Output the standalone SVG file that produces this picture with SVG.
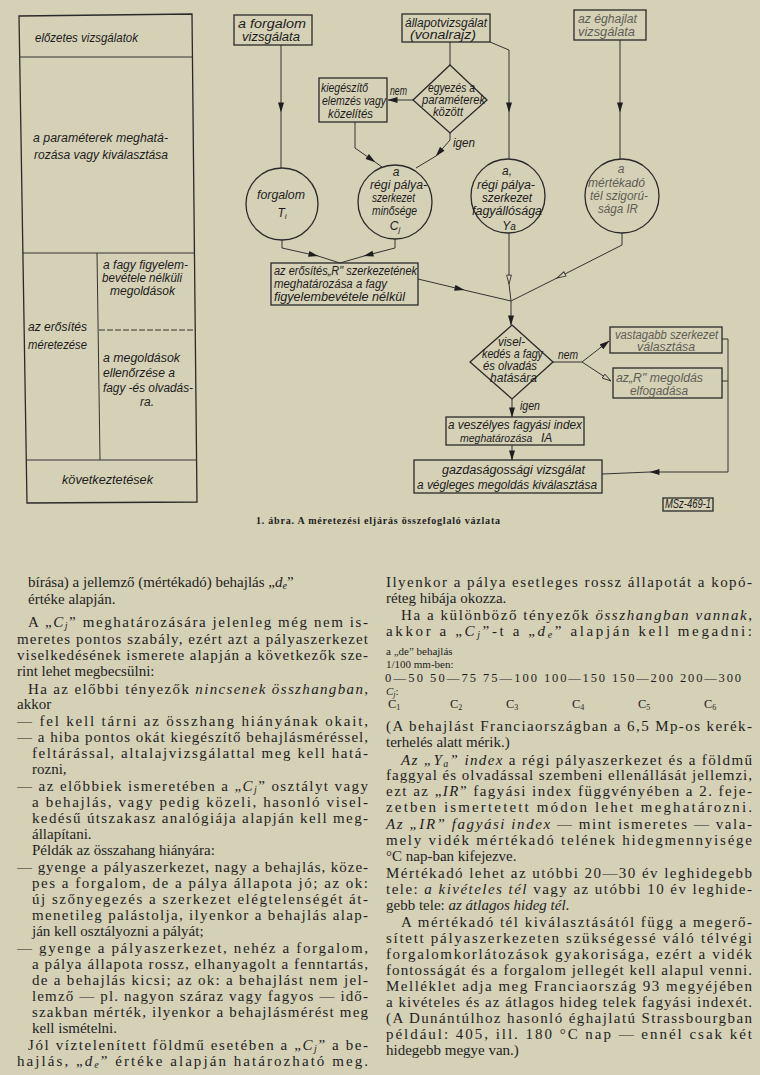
<svg xmlns="http://www.w3.org/2000/svg" width="760" height="1075" viewBox="0 0 760 1075">
<style>
.bx{fill:none;stroke:#2a2a2a;stroke-width:1.3}
.ln{fill:none;stroke:#333;stroke-width:1}
.t{font-family:"Liberation Sans",Arial,sans-serif;font-style:italic;font-size:12px;fill:#1c1c1c}
.m{text-anchor:middle}
.f{fill:#5e5d55}
.b{font-family:"Liberation Serif","Times New Roman",serif;font-size:15px;fill:#1e1e1e}
.s{font-size:11px}
.n{font-size:12.5px}
.i{font-style:italic}
.cap{font-family:"Liberation Serif","Times New Roman",serif;font-weight:bold;font-size:10px;fill:#1e1e1e}
</style>
<defs>
<marker id="a" viewBox="0 0 10 6" refX="9.5" refY="3" markerWidth="11" markerHeight="6" markerUnits="userSpaceOnUse" orient="auto"><path d="M0,0 L10,3 L0,6 z" fill="#1e1e1e"/></marker>
<marker id="o" viewBox="0 0 10 6" refX="9.5" refY="3" markerWidth="11" markerHeight="6" markerUnits="userSpaceOnUse" orient="auto"><path d="M0.6,0.6 L9.4,3 L0.6,5.4 z" fill="#d5d1b6" stroke="#333" stroke-width="0.9"/></marker>
</defs>
<rect x="0" y="0" width="760" height="1075" fill="#d5d1b6"/>

<g id="phases">
<polygon class="bx" points="19,16 192,14 197,502 27,503"/>
<path class="ln" d="M20,57 H192 M23,253 H194 M97,253 L100,460 M26,460 H197" stroke-width="1.1"/>
<path class="ln" d="M99,330 H196" stroke-dasharray="6,2" stroke-width="0.9"/>
<text class="t" x="35" y="42" textLength="103" lengthAdjust="spacingAndGlyphs">előzetes vizsgálatok</text>
<text class="t" x="33" y="142" textLength="135" lengthAdjust="spacingAndGlyphs">a paraméterek meghatá-</text>
<text class="t" x="34" y="159" textLength="134" lengthAdjust="spacingAndGlyphs">rozása vagy kiválasztása</text>
<text class="t" x="103" y="269" textLength="85" lengthAdjust="spacingAndGlyphs">a fagy figyelem-</text>
<text class="t" x="102" y="282" textLength="80" lengthAdjust="spacingAndGlyphs">bevétele nélküli</text>
<text class="t" x="110" y="295" textLength="65" lengthAdjust="spacingAndGlyphs">megoldások</text>
<text class="t" x="28" y="331" textLength="59" lengthAdjust="spacingAndGlyphs">az erősítés</text>
<text class="t" x="28" y="349" textLength="59" lengthAdjust="spacingAndGlyphs">méretezése</text>
<text class="t" x="103" y="362" textLength="77" lengthAdjust="spacingAndGlyphs">a megoldások</text>
<text class="t" x="103" y="377" textLength="72" lengthAdjust="spacingAndGlyphs">ellenőrzése a</text>
<text class="t" x="103" y="392" textLength="90" lengthAdjust="spacingAndGlyphs">fagy -és olvadás-</text>
<text class="t" x="140" y="406">ra.</text>
<text class="t" x="62" y="484" textLength="91" lengthAdjust="spacingAndGlyphs">következtetések</text>
</g>

<g id="connectors">
<path class="ln" d="M281,45 V112" marker-end="url(#a)"/><path class="ln" d="M281,112 V168"/>
<path class="ln" d="M450,42 V65"/>
<path class="ln" d="M413,100 H388" marker-end="url(#a)"/>
<path class="ln" d="M490,42 L509,50 V112" marker-end="url(#a)"/><path class="ln" d="M509,112 V159"/>
<path class="ln" d="M620,40 V112" marker-end="url(#a)"/><path class="ln" d="M620,112 V160"/>
<path class="ln" d="M355,122 V148 L375,162" marker-end="url(#a)"/><path class="ln" d="M375,162 L382,167"/>
<path class="ln" d="M450,133 V140 L436,156" marker-end="url(#a)"/><path class="ln" d="M436,156 L416,168"/>
<path class="ln" d="M282,240 V248 L318,256" marker-end="url(#a)"/><path class="ln" d="M318,256 L340,263"/>
<path class="ln" d="M395,239 V248 L364,256" marker-end="url(#a)"/><path class="ln" d="M364,256 L340,263"/>
<path class="ln" d="M418,279 L464,290" marker-end="url(#a)"/><path class="ln" d="M464,290 L511,301"/>
<path class="ln" d="M509,233 V284" marker-end="url(#o)"/><path class="ln" d="M509,284 L511,301"/>
<path class="ln" d="M622,233 V245 L557,278" marker-end="url(#o)"/><path class="ln" d="M557,278 L511,301"/>
<path class="ln" d="M511,301 V325" marker-end="url(#a)"/>
<path class="ln" d="M553,362 H582"/>
<path class="ln" d="M582,362 L609,341" marker-end="url(#a)"/>
<path class="ln" d="M582,362 L611,381" marker-end="url(#o)"/>
<path class="ln" d="M722,339 H728 V472 H650" marker-end="url(#a)"/><path class="ln" d="M650,472 L602,474"/>
<path class="ln" d="M722,381 H728"/>
<path class="ln" d="M512,399 V417" marker-end="url(#a)"/>
<path class="ln" d="M512,445 V460" marker-end="url(#a)"/>
<text class="t" x="390" y="95" font-size="10" textLength="17" lengthAdjust="spacingAndGlyphs">nem</text>
<text class="t" x="453" y="147" font-size="10" textLength="22" lengthAdjust="spacingAndGlyphs">igen</text>
<text class="t" x="558" y="359" font-size="11" textLength="20" lengthAdjust="spacingAndGlyphs">nem</text>
<text class="t" x="520" y="410" font-size="11" textLength="20" lengthAdjust="spacingAndGlyphs">igen</text>
</g>

<g id="n-forgalom-vizsg">
<rect class="bx" x="234" y="15" width="78" height="30"/>
<text class="t" x="238" y="28" textLength="68" lengthAdjust="spacingAndGlyphs">a forgalom</text>
<text class="t" x="242" y="41" textLength="58" lengthAdjust="spacingAndGlyphs">vizsgálata</text>
</g>
<g id="n-allapot">
<rect class="bx" x="402" y="14" width="88" height="28"/>
<text class="t" x="405" y="27" font-size="11.5" textLength="82" lengthAdjust="spacingAndGlyphs">állapotvizsgálat</text>
<text class="t" x="410" y="39" font-size="11.5" textLength="66" lengthAdjust="spacingAndGlyphs">(vonalrajz)</text>
</g>
<g id="n-eghajlat">
<rect class="bx" x="574" y="10" width="72" height="30" stroke="#444"/>
<text class="t f" x="578" y="23" textLength="59" lengthAdjust="spacingAndGlyphs">az éghajlat</text>
<text class="t f" x="578" y="36" textLength="57" lengthAdjust="spacingAndGlyphs">vizsgálata</text>
</g>
<g id="n-egyezes">
<polygon class="bx" points="450,65 487,100 450,133 413,100"/>
<text class="t" x="428" y="92" font-size="10" textLength="47" lengthAdjust="spacingAndGlyphs">egyezés a</text>
<text class="t" x="422" y="104" font-size="10" textLength="63" lengthAdjust="spacingAndGlyphs">paraméterek</text>
<text class="t" x="433" y="116" font-size="10" textLength="30" lengthAdjust="spacingAndGlyphs">között</text>
</g>
<g id="n-kiegeszito">
<rect class="bx" x="319" y="78" width="68" height="44"/>
<text class="t" x="321" y="92" font-size="11" textLength="47" lengthAdjust="spacingAndGlyphs">kiegészítő</text>
<text class="t" x="322" y="105" font-size="11" textLength="64" lengthAdjust="spacingAndGlyphs">elemzés vagy</text>
<text class="t" x="328" y="118" font-size="11" textLength="45" lengthAdjust="spacingAndGlyphs">közelítés</text>
</g>
<g id="n-forgalom">
<circle class="bx" cx="282" cy="204" r="36"/>
<text class="t" x="257" y="199" textLength="48" lengthAdjust="spacingAndGlyphs">forgalom</text>
<text class="t m" x="282" y="217">T<tspan font-size="8" dy="2">i</tspan></text>
</g>
<g id="n-cj">
<circle class="bx" cx="395" cy="202" r="37"/>
<text class="t m" x="396" y="176" font-size="11">a</text>
<text class="t" x="370" y="189" font-size="11" textLength="57" lengthAdjust="spacingAndGlyphs">régi pálya-</text>
<text class="t" x="372" y="202" font-size="11" textLength="43" lengthAdjust="spacingAndGlyphs">szerkezet</text>
<text class="t" x="372" y="215" font-size="11" textLength="45" lengthAdjust="spacingAndGlyphs">minősége</text>
<text class="t m" x="395" y="230">C<tspan font-size="8" dy="2">j</tspan></text>
</g>
<g id="n-ya">
<circle class="bx" cx="508" cy="196" r="37"/>
<text class="t m" x="507" y="175" font-size="11">a,</text>
<text class="t" x="477" y="189" font-size="11" textLength="58" lengthAdjust="spacingAndGlyphs">régi pálya-</text>
<text class="t" x="482" y="202" font-size="11" textLength="50" lengthAdjust="spacingAndGlyphs">szerkezet</text>
<text class="t" x="472" y="215" font-size="11" textLength="70" lengthAdjust="spacingAndGlyphs">fagyállósága</text>
<text class="t m" x="509" y="230">Y<tspan font-size="10">a</tspan></text>
</g>
<g id="n-ir">
<circle class="bx" cx="622" cy="196" r="37" stroke="#333"/>
<text class="t m f" x="621" y="173" font-size="11">a</text>
<text class="t f" x="588" y="187" font-size="11" textLength="57" lengthAdjust="spacingAndGlyphs">mértékadó</text>
<text class="t f" x="590" y="200" font-size="11" textLength="58" lengthAdjust="spacingAndGlyphs">tél szigorú-</text>
<text class="t f" x="598" y="213" font-size="11" textLength="40" lengthAdjust="spacingAndGlyphs">sága IR</text>
</g>
<g id="n-erosites">
<rect class="bx" x="271" y="263" width="147" height="42"/>
<text class="t" x="274" y="275" textLength="143" lengthAdjust="spacingAndGlyphs">az erősítés„R" szerkezetének</text>
<text class="t" x="274" y="288" textLength="113" lengthAdjust="spacingAndGlyphs">meghatározása  a  fagy</text>
<text class="t" x="274" y="301" textLength="131" lengthAdjust="spacingAndGlyphs">figyelembevétele nélkül</text>
</g>
<g id="n-viselkedes">
<polygon class="bx" points="512,325 553,362 512,399 470,362"/>
<text class="t" x="498" y="346" font-size="11" textLength="27" lengthAdjust="spacingAndGlyphs">visel-</text>
<text class="t" x="482" y="358" font-size="11" textLength="61" lengthAdjust="spacingAndGlyphs">kedés a fagy</text>
<text class="t" x="483" y="370" font-size="11" textLength="54" lengthAdjust="spacingAndGlyphs">és olvadás</text>
<text class="t" x="490" y="382" font-size="11" textLength="47" lengthAdjust="spacingAndGlyphs">hatására</text>
</g>
<g id="n-vastagabb">
<rect class="bx" x="610" y="327" width="112" height="26" stroke="#444"/>
<text class="t f" x="615" y="339" textLength="103" lengthAdjust="spacingAndGlyphs">vastagabb szerkezet</text>
<text class="t f" x="637" y="351" textLength="58" lengthAdjust="spacingAndGlyphs">választása</text>
</g>
<g id="n-elfogadas">
<rect class="bx" x="613" y="368" width="109" height="30" stroke="#444"/>
<text class="t f" x="616" y="382" textLength="87" lengthAdjust="spacingAndGlyphs">az„R" megoldás</text>
<text class="t f" x="630" y="395" textLength="58" lengthAdjust="spacingAndGlyphs">elfogadása</text>
</g>
<g id="n-veszelyes">
<rect class="bx" x="446" y="417" width="138" height="28"/>
<text class="t" x="448" y="429" textLength="134" lengthAdjust="spacingAndGlyphs">a veszélyes fagyási index</text>
<text class="t" x="460" y="442"><tspan font-size="10.5">meghatározása</tspan><tspan x="541">IA</tspan></text>
</g>
<g id="n-gazdasagossagi">
<rect class="bx" x="414" y="460" width="188" height="33"/>
<text class="t" x="442" y="474" textLength="143" lengthAdjust="spacingAndGlyphs">gazdaságossági vizsgálat</text>
<text class="t" x="417" y="489" textLength="180" lengthAdjust="spacingAndGlyphs">a végleges megoldás kiválasztása</text>
</g>
<g id="n-msz">
<rect class="bx" x="663" y="498" width="50" height="13" stroke-width="1"/>
<text class="t" x="665" y="508" font-size="9" textLength="46" lengthAdjust="spacingAndGlyphs">MSz-469-1</text>
</g>

<text class="cap" x="256" y="524" textLength="244" lengthAdjust="spacing">1. ábra. A méretezési eljárás összefoglaló vázlata</text>

<g id="col-left" class="b">
<text x="28" y="587">bírása) a jellemző (mértékadó) behajlás „<tspan class="i">d</tspan><tspan class="i" font-size="10" dy="2">e</tspan><tspan dy="-2">”</tspan></text>
<text x="28" y="604">értéke alapján.</text>
<text x="28" y="627" textLength="340" lengthAdjust="spacing">A „<tspan class="i">C</tspan><tspan class="i" font-size="10" dy="2">j</tspan><tspan dy="-2">” meghatározására jelenleg még nem is-</tspan></text>
<text x="17" y="644" textLength="351" lengthAdjust="spacing">meretes pontos szabály, ezért azt a pályaszerkezet</text>
<text x="17" y="660" textLength="351" lengthAdjust="spacing">viselkedésének ismerete alapján a következők sze-</text>
<text x="17" y="676">rint lehet megbecsülni:</text>
<text x="28" y="694" textLength="340" lengthAdjust="spacing">Ha az előbbi tényezők <tspan class="i">nincsenek összhangban</tspan>,</text>
<text x="17" y="709">akkor</text>
<text x="17" y="726" textLength="351" lengthAdjust="spacing">— fel kell tárni az összhang hiányának okait,</text>
<text x="17" y="742" textLength="351" lengthAdjust="spacing">— a hiba pontos okát kiegészítő behajlásméréssel,</text>
<text x="32" y="758" textLength="336" lengthAdjust="spacing">feltárással, altalajvizsgálattal meg kell hatá-</text>
<text x="32" y="774">rozni,</text>
<text x="17" y="791" textLength="351" lengthAdjust="spacing">— az előbbiek ismeretében a „<tspan class="i">C</tspan><tspan class="i" font-size="10" dy="2">j</tspan><tspan dy="-2">” osztályt vagy</tspan></text>
<text x="32" y="807" textLength="336" lengthAdjust="spacing">a behajlás, vagy pedig közeli, hasonló visel-</text>
<text x="32" y="823" textLength="336" lengthAdjust="spacing">kedésű útszakasz analógiája alapján kell meg-</text>
<text x="32" y="839">állapítani.</text>
<text x="32" y="855">Példák az összahang hiányára:</text>
<text x="17" y="872" textLength="351" lengthAdjust="spacing">— gyenge a pályaszerkezet, nagy a behajlás, köze-</text>
<text x="32" y="888" textLength="336" lengthAdjust="spacing">pes a forgalom, de a pálya állapota jó; az ok:</text>
<text x="32" y="904" textLength="336" lengthAdjust="spacing">új szőnyegezés a szerkezet elégtelenségét át-</text>
<text x="32" y="920" textLength="336" lengthAdjust="spacing">menetileg palástolja, ilyenkor a behajlás alap-</text>
<text x="32" y="936">ján kell osztályozni a pályát;</text>
<text x="17" y="953" textLength="351" lengthAdjust="spacing">— gyenge a pályaszerkezet, nehéz a forgalom,</text>
<text x="32" y="969" textLength="336" lengthAdjust="spacing">a pálya állapota rossz, elhanyagolt a fenntartás,</text>
<text x="32" y="985" textLength="336" lengthAdjust="spacing">de a behajlás kicsi; az ok: a behajlást nem jel-</text>
<text x="32" y="1001" textLength="336" lengthAdjust="spacing">lemző — pl. nagyon száraz vagy fagyos — idő-</text>
<text x="32" y="1017" textLength="336" lengthAdjust="spacing">szakban mérték, ilyenkor a behajlásmérést meg</text>
<text x="32" y="1033">kell ismételni.</text>
<text x="28" y="1050" textLength="340" lengthAdjust="spacing">Jól víztelenített földmű esetében a „<tspan class="i">C</tspan><tspan class="i" font-size="10" dy="2">j</tspan><tspan dy="-2">” a be-</tspan></text>
<text x="17" y="1066" textLength="351" lengthAdjust="spacing">hajlás, „<tspan class="i">d</tspan><tspan class="i" font-size="10" dy="2">e</tspan><tspan dy="-2">” értéke alapján határozható meg.</tspan></text>
</g>

<g id="col-right" class="b">
<text x="386" y="587" textLength="366" lengthAdjust="spacing">Ilyenkor a pálya esetleges rossz állapotát a kopó-</text>
<text x="386" y="603">réteg hibája okozza.</text>
<text x="401" y="620" textLength="351" lengthAdjust="spacing">Ha a különböző tényezők <tspan class="i">összhangban vannak</tspan>,</text>
<text x="386" y="636" textLength="366" lengthAdjust="spacing">akkor a „<tspan class="i">C</tspan><tspan class="i" font-size="10" dy="2">j</tspan><tspan dy="-2">”-t a „</tspan><tspan class="i">d</tspan><tspan class="i" font-size="10" dy="2">e</tspan><tspan dy="-2">” alapján kell megadni:</tspan></text>
<text class="s" x="386" y="655">a „de” behajlás</text>
<text class="s" x="386" y="668">1/100 mm-ben:</text>
<text class="n" x="385" y="682" textLength="38" lengthAdjust="spacing">0—50</text>
<text class="n" x="430" y="682" textLength="46" lengthAdjust="spacing">50—75</text>
<text class="n" x="483" y="682" textLength="54" lengthAdjust="spacing">75—100</text>
<text class="n" x="544" y="682" textLength="61" lengthAdjust="spacing">100—150</text>
<text class="n" x="612" y="682" textLength="61" lengthAdjust="spacing">150—200</text>
<text class="n" x="680" y="682" textLength="61" lengthAdjust="spacing">200—300</text>
<text class="s" x="386" y="695"><tspan class="i">C</tspan><tspan class="i" font-size="8" dy="2">j</tspan><tspan dy="-2">:</tspan></text>
<text class="n" x="388" y="708">C<tspan font-size="8" dy="2">1</tspan></text>
<text class="n" x="450" y="708">C<tspan font-size="8" dy="2">2</tspan></text>
<text class="n" x="506" y="708">C<tspan font-size="8" dy="2">3</tspan></text>
<text class="n" x="572" y="708">C<tspan font-size="8" dy="2">4</tspan></text>
<text class="n" x="638" y="708">C<tspan font-size="8" dy="2">5</tspan></text>
<text class="n" x="704" y="708">C<tspan font-size="8" dy="2">6</tspan></text>
<text x="386" y="731" textLength="366" lengthAdjust="spacing">(A behajlást Franciaországban a 6,5 Mp-os kerék-</text>
<text x="386" y="747">terhelés alatt mérik.)</text>
<text x="401" y="765" textLength="351" lengthAdjust="spacing"><tspan class="i">Az „Y</tspan><tspan class="i" font-size="10" dy="2">a</tspan><tspan class="i" dy="-2">” index</tspan> a régi pályaszerkezet és a földmű</text>
<text x="386" y="780" textLength="366" lengthAdjust="spacing">faggyal és olvadással szembeni ellenállását jellemzi,</text>
<text x="386" y="796" textLength="366" lengthAdjust="spacing">ezt az „<tspan class="i">IR</tspan>” fagyási index függvényében a 2. feje-</text>
<text x="386" y="812" textLength="366" lengthAdjust="spacing">zetben ismertetett módon lehet meghatározni.</text>
<text x="386" y="829" textLength="366" lengthAdjust="spacing"><tspan class="i">Az „IR” fagyási index</tspan> — mint ismeretes — vala-</text>
<text x="386" y="845" textLength="366" lengthAdjust="spacing">mely vidék mértékadó telének hidegmennyisége</text>
<text x="386" y="861">°C nap-ban kifejezve.</text>
<text x="386" y="878" textLength="366" lengthAdjust="spacing">Mértékadó lehet az utóbbi 20—30 év leghidegebb</text>
<text x="386" y="894" textLength="366" lengthAdjust="spacing">tele: <tspan class="i">a kivételes tél</tspan> vagy az utóbbi 10 év leghide-</text>
<text x="386" y="910">gebb tele: <tspan class="i">az átlagos hideg tél</tspan>.</text>
<text x="401" y="927" textLength="351" lengthAdjust="spacing">A mértékadó tél kiválasztásától függ a megerő-</text>
<text x="386" y="943" textLength="366" lengthAdjust="spacing">sített pályaszerkezeten szükségessé váló télvégi</text>
<text x="386" y="959" textLength="366" lengthAdjust="spacing">forgalomkorlátozások gyakorisága, ezért a vidék</text>
<text x="386" y="975" textLength="366" lengthAdjust="spacing">fontosságát és a forgalom jellegét kell alapul venni.</text>
<text x="386" y="991" textLength="366" lengthAdjust="spacing">Melléklet adja meg Franciaország 93 megyéjében</text>
<text x="386" y="1007" textLength="366" lengthAdjust="spacing">a kivételes és az átlagos hideg telek fagyási indexét.</text>
<text x="386" y="1023" textLength="366" lengthAdjust="spacing">(A Dunántúlhoz hasonló éghajlatú Strassbourgban</text>
<text x="386" y="1039" textLength="366" lengthAdjust="spacing">például: 405, ill. 180 °C nap — ennél csak két</text>
<text x="386" y="1055">hidegebb megye van.)</text>
</g>
</svg>
